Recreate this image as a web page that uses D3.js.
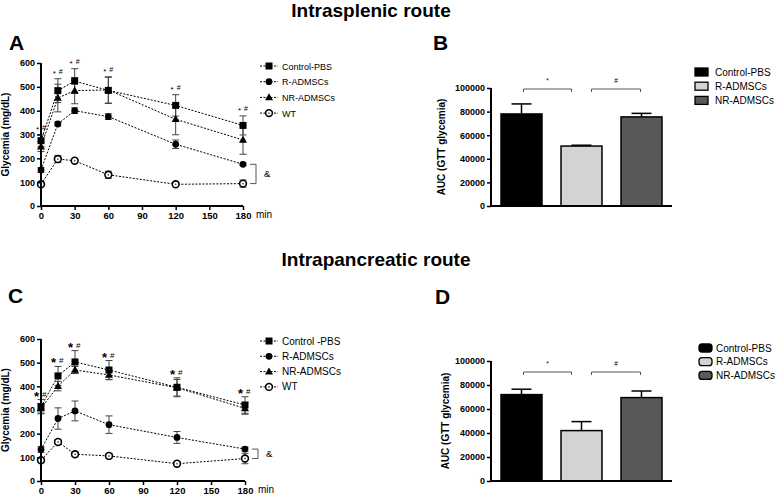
<!DOCTYPE html>
<html><head><meta charset="utf-8">
<script src="https://cdn.jsdelivr.net/npm/d3@7"></script>
<style>
body{margin:0;background:#fff;}
svg{font-family:"Liberation Sans",Arial,sans-serif;display:block;}
</style></head>
<body>
<script>
// ---------- DATA ----------
const times = [0, 15, 30, 60, 120, 180];
const timeTicks = [0, 30, 60, 90, 120, 150, 180];
const glyTicks = [0, 100, 200, 300, 400, 500, 600];
const aucTicks = [0, 20000, 40000, 60000, 80000, 100000];
const lineSeriesA = ["Control-PBS", "R-ADMSCs", "NR-ADMSCs", "WT"];
const lineSeriesC = ["Control -PBS", "R-ADMSCs", "NR-ADMSCs", "WT"];
// Panel A (intrasplenic)
const aControl = [274, 484, 524, 485, 422, 338];
const aControlErr = [25, 50, 52, 55, 45, 40];
const aR = [151, 344, 400, 375, 259, 175];
const aRErr = [10, 8, 12, 12, 18, 5];
const aNR = [249, 453, 484, 487, 364, 277];
const aNRErr = [20, 58, 55, 55, 65, 60];
const aWT = [91, 197, 190, 131, 91, 94];
const aWTErr = [8, 15, 6, 15, 5, 15];
// Panel C (intrapancreatic)
const cControl = [314, 444, 503, 469, 396, 321];
const cControlErr = [30, 40, 48, 40, 40, 35];
const cR = [133, 264, 296, 238, 184, 135];
const cRErr = [12, 45, 42, 37, 25, 8];
const cNR = [307, 401, 469, 448, 394, 307];
const cNRErr = [20, 20, 15, 20, 35, 25];
const cWT = [88, 165, 113, 106, 73, 95];
const cWTErr = [10, 10, 10, 10, 8, 22];
const sigStar = ["*", "*", "*", "*", "*", "*"];
const sigHash = ["#", "#", "#", "#", "#", "#"];
// Bar panels
const barGroups = ["Control-PBS", "R-ADMSCs", "NR-ADMSCs"];
const bAuc = [78000, 50800, 75500];
const bAucErr = [8500, 700, 3000];
const dAuc = [72000, 42000, 69500];
const dAucErr = [4500, 7500, 5500];
const bracketLabels = ["*", "#"];

// ---------- DRAW ----------
const W = 778, H = 496;
const svg = d3.select("body").append("svg").attr("width", W).attr("height", H);

function txt(x, y, s, size, weight, anchor) {
  return svg.append("text").attr("x", x).attr("y", y).attr("font-size", size)
    .attr("font-weight", weight || "normal").attr("text-anchor", anchor || "start").text(s);
}

txt(371, 17, "Intrasplenic route", 19, "bold", "middle");
txt(376, 266, "Intrapancreatic route", 19, "bold", "middle");
txt(9, 50, "A", 21, "bold");
txt(433, 50, "B", 21, "bold");
txt(8, 303, "C", 21, "bold");
txt(435, 304, "D", 21, "bold");

function styleAxis(g) {
  g.select(".domain").attr("stroke", "#000").attr("stroke-width", 2);
  g.selectAll(".tick line").attr("stroke", "#000").attr("stroke-width", 1.5);
  g.selectAll(".tick text").attr("font-size", 9).attr("font-weight", "bold")
    .attr("fill", "#000").attr("font-family", "Liberation Sans, Arial, sans-serif");
}

function drawMarker(g, type, x, y) {
  if (type === 0) {
    g.append("rect").attr("x", x - 3.5).attr("y", y - 3.5).attr("width", 7).attr("height", 7).attr("fill", "#000");
  } else if (type === 1) {
    g.append("circle").attr("cx", x).attr("cy", y).attr("r", 3.4).attr("fill", "#000");
  } else if (type === 2) {
    g.append("path").attr("d", d3.symbol().type(d3.symbolTriangle).size(28)())
      .attr("transform", `translate(${x},${y + 0.5})`).attr("fill", "#000");
  } else {
    g.append("circle").attr("cx", x).attr("cy", y).attr("r", 3.4).attr("fill", "#fff")
      .attr("stroke", "#000").attr("stroke-width", 1.6);
    g.append("circle").attr("cx", x).attr("cy", y).attr("r", 0.9).attr("fill", "#555");
  }
}

function linePanel(cfg) {
  const x = d3.scaleLinear().domain([0, 180]).range(cfg.xr);
  const y = d3.scaleLinear().domain([0, 600]).range(cfg.yr);
  const g = svg.append("g");
  const series = cfg.series;
  const lineGen = d3.line().x((d, i) => x(times[i])).y(d => y(d));
  series.forEach(s => {
    g.append("path").attr("d", lineGen(s.v)).attr("fill", "none").attr("stroke", "#000")
      .attr("stroke-width", 1).attr("stroke-dasharray", "2,1.5");
  });
  series.forEach(s => {
    s.v.forEach((v, i) => {
      const cx = x(times[i]), e = s.e[i];
      if (e > 0) {
        g.append("line").attr("x1", cx).attr("x2", cx).attr("y1", y(v - e)).attr("y2", y(v + e))
          .attr("stroke", "#444").attr("stroke-width", 1);
        [v - e, v + e].forEach(t => g.append("line").attr("x1", cx - 3.5).attr("x2", cx + 3.5)
          .attr("y1", y(t)).attr("y2", y(t)).attr("stroke", "#444").attr("stroke-width", 1));
      }
    });
  });
  series.forEach((s, k) => s.v.forEach((v, i) => drawMarker(g, k, x(times[i]), y(v))));
  // axes
  const ax = svg.append("g").attr("transform", `translate(0,${cfg.yr[0]})`)
    .call(d3.axisBottom(x).tickValues(timeTicks).tickSize(4).tickPadding(2).tickFormat(d3.format("d")));
  styleAxis(ax);
  ax.selectAll(".tick text").attr("font-size", 9.5);
  const ay = svg.append("g").attr("transform", `translate(${cfg.xr[0]},0)`)
    .call(d3.axisLeft(y).tickValues(glyTicks).tickSize(4).tickPadding(2).tickFormat(d3.format("d")));
  styleAxis(ay);
  ay.select(".domain").attr("d", `M0,${cfg.yr[0]}V${cfg.yr[1]}`);
  ax.select(".domain").attr("d", `M${cfg.xr[0]},0H${cfg.xr[1]}`);
  txt(cfg.xr[1] + 13, cfg.yr[0] + 12, "min", 10, "normal");
  svg.append("text").attr("transform", `translate(${cfg.labX},${(cfg.yr[0] + cfg.yr[1]) / 2}) rotate(-90)`)
    .attr("text-anchor", "middle").attr("font-size", 10).attr("font-weight", "bold").text("Glycemia (mg/dL)");
  // significance
  const top = series[0];
  top.v.forEach((v, i) => {
    const cx = x(times[i]), ty = y(v + top.e[i]) - cfg.sigGap;
    svg.append("text").attr("x", cx - 2).attr("y", ty + cfg.starDy).attr("text-anchor", "end")
      .attr("font-size", cfg.starSize).attr("font-weight", cfg.starWeight).text(sigStar[i]);
    svg.append("text").attr("x", cx + 1).attr("y", ty).attr("text-anchor", "start")
      .attr("font-size", cfg.hashSize).text(sigHash[i]);
  });
  // & bracket
  const r = series[1].v[5], w = series[3].v[5];
  const bx = cfg.xr[1] + 13;
  svg.append("path").attr("d", `M${bx - 6},${y(r)}H${bx}V${y(w)}H${bx - 6}`)
    .attr("fill", "none").attr("stroke", "#555").attr("stroke-width", 1);
  txt(bx + 8, (y(r) + y(w)) / 2 + 3, "&", 9.5, "normal");
  // legend
  cfg.names.forEach((n, k) => {
    const ly = cfg.legY + k * cfg.legStep;
    svg.append("line").attr("x1", cfg.legX - 9).attr("x2", cfg.legX + 9).attr("y1", ly).attr("y2", ly)
      .attr("stroke", "#000").attr("stroke-width", 1).attr("stroke-dasharray", "2,1.5");
    drawMarker(svg, k, cfg.legX, ly);
    txt(cfg.legX + 13, ly + 3.5, n, cfg.legSize, "normal");
  });
}

linePanel({
  xr: [41, 243], yr: [206, 63], labX: 9,
  series: [{v: aControl, e: aControlErr}, {v: aR, e: aRErr}, {v: aNR, e: aNRErr}, {v: aWT, e: aWTErr}],
  names: lineSeriesA, legX: 269, legY: 66, legStep: 15.7, legSize: 9,
  sigGap: 5, starSize: 8, starWeight: "normal", starDy: 2, hashSize: 7
});
linePanel({
  xr: [41, 245], yr: [481, 339], labX: 9,
  series: [{v: cControl, e: cControlErr}, {v: cR, e: cRErr}, {v: cNR, e: cNRErr}, {v: cWT, e: cWTErr}],
  names: lineSeriesC, legX: 269, legY: 341, legStep: 15.3, legSize: 10,
  sigGap: 3, starSize: 13, starWeight: "bold", starDy: 4, hashSize: 8
});

const barFill = ["#000000", "#d3d3d3", "#595959"];

function barPanel(cfg) {
  const x = d3.scaleBand().domain(barGroups).range([491, 672]).paddingInner(0.317).paddingOuter(0.167);
  const y = d3.scaleLinear().domain([0, 100000]).range(cfg.yr);
  const g = svg.append("g");
  cfg.vals.forEach((v, i) => {
    const cx = x(barGroups[i]) + x.bandwidth() / 2;
    g.append("line").attr("x1", cx).attr("x2", cx).attr("y1", y(v)).attr("y2", y(v + cfg.errs[i]))
      .attr("stroke", "#000").attr("stroke-width", 1.5);
    g.append("line").attr("x1", cx - 10).attr("x2", cx + 10).attr("y1", y(v + cfg.errs[i])).attr("y2", y(v + cfg.errs[i]))
      .attr("stroke", "#000").attr("stroke-width", 1.5);
    g.append("rect").attr("x", x(barGroups[i])).attr("y", y(v)).attr("width", x.bandwidth())
      .attr("height", y(0) - y(v)).attr("fill", barFill[i]).attr("stroke", "#000").attr("stroke-width", 1.5);
  });
  const ax = svg.append("g").attr("transform", `translate(0,${cfg.yr[0]})`)
    .call(d3.axisBottom(x).tickSize(0).tickFormat(""));
  styleAxis(ax);
  ax.select(".domain").attr("d", "M491,0H672");
  const ay = svg.append("g").attr("transform", "translate(491,0)")
    .call(d3.axisLeft(y).tickValues(aucTicks).tickSize(4).tickPadding(2).tickFormat(d3.format("d")));
  styleAxis(ay);
  ay.select(".domain").attr("d", `M0,${cfg.yr[0]}V${cfg.yr[1]}`);
  svg.append("text").attr("transform", `translate(${cfg.labX},${(cfg.yr[0] + cfg.yr[1]) / 2}) rotate(-90)`)
    .attr("text-anchor", "middle").attr("font-size", 10).attr("font-weight", "bold").text("AUC (GTT glycemia)");
  // brackets
  const c = barGroups.map(b => x(b) + x.bandwidth() / 2);
  const spans = [[c[0] + 2, c[1] - 10], [c[1] + 10, c[2] - 1]];
  spans.forEach((s, k) => {
    svg.append("path").attr("d", `M${s[0]},${cfg.brY + 3}V${cfg.brY}H${s[1]}V${cfg.brY + 3}`)
      .attr("fill", "none").attr("stroke", "#555").attr("stroke-width", 1);
    txt((s[0] + s[1]) / 2, cfg.brY - 6, bracketLabels[k], 6.5, "normal", "middle");
  });
  // legend
  barGroups.forEach((n, k) => {
    const ly = cfg.legY + k * cfg.legStep;
    svg.append("rect").attr("x", cfg.legX).attr("y", ly - 4).attr("width", 13).attr("height", 8)
      .attr("rx", cfg.rx).attr("fill", barFill[k]).attr("stroke", "#000").attr("stroke-width", 1.3);
    txt(cfg.legX + cfg.textDx, ly + 3.5, n, cfg.legSize, "normal");
  });
}

barPanel({vals: bAuc, errs: bAucErr, yr: [206, 88], labX: 445, brY: 89,
  legX: 695, textDx: 20, legY: 72, legStep: 14.2, legSize: 10, rx: 0});
barPanel({vals: dAuc, errs: dAucErr, yr: [481, 361], labX: 449, brY: 372,
  legX: 699, textDx: 17, legY: 348, legStep: 13.7, legSize: 10, rx: 3});
</script>
</body></html>
